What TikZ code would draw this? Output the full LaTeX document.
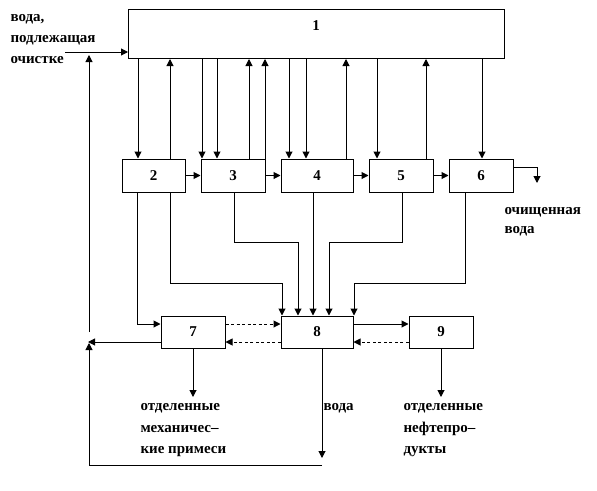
\documentclass[tikz,border=0pt]{standalone}
\usepackage{fontspec}
\setmainfont{Liberation Serif}
\usetikzlibrary{arrows.meta}
\begin{document}
\begin{tikzpicture}[x=1pt,y=-1pt,line width=1pt,
  box/.style={draw,line width=1pt,inner sep=0pt,minimum width=64pt,minimum height=33pt,font=\bfseries\fontsize{15}{15}\selectfont},
  arr/.style={-{Triangle[length=7pt,width=7pt]}},
  dsh/.style={arr,dash pattern=on 3pt off 2.5pt},
  lbl/.style={font=\bfseries\fontsize{15}{15}\selectfont,anchor=base west,inner sep=0pt}]
\useasboundingbox (0,0) rectangle (597,490);
% boxes
\node[draw,line width=1pt,minimum width=376pt,minimum height=49pt,anchor=north west,inner sep=0pt] (b1) at (128,9) {};
\node[font=\bfseries\fontsize{15}{15}\selectfont,inner sep=0pt] (t1) at (316,26) {1};
\node[box,minimum width=63pt] (b2) at (153.5,175.5) {2};
\node[box] (b3) at (233,175.5) {3};
\node[box,minimum width=72pt] (b4) at (317,175.5) {4};
\node[box] (b5) at (401,175.5) {5};
\node[box] (b6) at (481,175.5) {6};
\node[box,minimum height=32pt] (b7) at (193,332) {7};
\node[box,minimum width=72pt,minimum height=32pt] (b8) at (317,332) {8};
\node[box,minimum height=32pt] (b9) at (441,332) {9};
% labels
\node[lbl] (l1a) at (10,21) {вода,};
\node[lbl] (l1b) at (10,42) {подлежащая};
\node[lbl] (l1c) at (10,63) {очистке};
\node[lbl] (l6a) at (504,214) {очищенная};
\node[lbl] (l6b) at (504,233) {вода};
\node[lbl] (l7a) at (140,410) {отделенные};
\node[lbl] (l7b) at (140,432) {механичес–};
\node[lbl] (l7c) at (140,453) {кие примеси};
\node[lbl] (l8a) at (323,410) {вода};
\node[lbl] (l9a) at (403,410) {отделенные};
\node[lbl] (l9b) at (403,432) {нефтепро–};
\node[lbl] (l9c) at (403,453) {дукты};
% input
\coordinate (in) at (65,52);
\draw[arr] (in) -- (b1.west |- in);
% box 1 -> row
\foreach \x/\b in {138/b2,202/b3,217/b3,289/b4,306/b4,377/b5,482/b6}
  \draw[arr] (\x,0 |- b1.south) -- (\x,0 |- \b.north);
\foreach \x/\b in {170/b2,249/b3,265/b3,346/b4,426/b5}
  \draw[arr] (\x,0 |- \b.north) -- (\x,0 |- b1.south);
% row chain
\draw[arr] (b2.east) -- (b3.west);
\draw[arr] (b3.east) -- (b4.west);
\draw[arr] (b4.east) -- (b5.west);
\draw[arr] (b5.east) -- (b6.west);
\coordinate (o6) at (537,183);
\draw[arr] (b6.east |- 0,167) -| (o6);
% row -> 7, 8
\draw[arr] (137,0 |- b2.south) |- (b7.west |- 0,324);
\draw[arr] (170,0 |- b2.south) -- (170,283) -- (282,283) -- (282,0 |- b8.north);
\draw[arr] (234,0 |- b3.south) -- (234,242) -- (298,242) -- (298,0 |- b8.north);
\draw[arr] (313,0 |- b4.south) -- (313,0 |- b8.north);
\draw[arr] (402,0 |- b5.south) -- (402,242) -- (329,242) -- (329,0 |- b8.north);
\draw[arr] (465,0 |- b6.south) -- (465,283) -- (354,283) -- (354,0 |- b8.north);
% 7-8-9
\draw[dsh] (b7.east |- 0,324) -- (b8.west |- 0,324);
\draw[arr] (b8.east |- 0,324) -- (b9.west |- 0,324);
\draw[dsh] (b8.west |- 0,342) -- (b7.east |- 0,342);
\draw[dsh] (b9.west |- 0,342) -- (b8.east |- 0,342);
% return loops
\coordinate (r7) at (88,342);
\draw[arr] (b7.west |- r7) -- (r7);
\coordinate (rup) at (89,55);
\draw[arr] (89,332) -- (rup);
\coordinate (w8) at (322,458);
\draw[arr] (322,0 |- b8.south) -- (w8);
\coordinate (rb) at (89,343);
\draw[arr] (322,465) -- (89,465) -- (rb);
% outputs
\coordinate (o7) at (193,397);
\draw[arr] (193,0 |- b7.south) -- (o7);
\coordinate (o9) at (441,397);
\draw[arr] (441,0 |- b9.south) -- (o9);
\end{tikzpicture}
\end{document}
